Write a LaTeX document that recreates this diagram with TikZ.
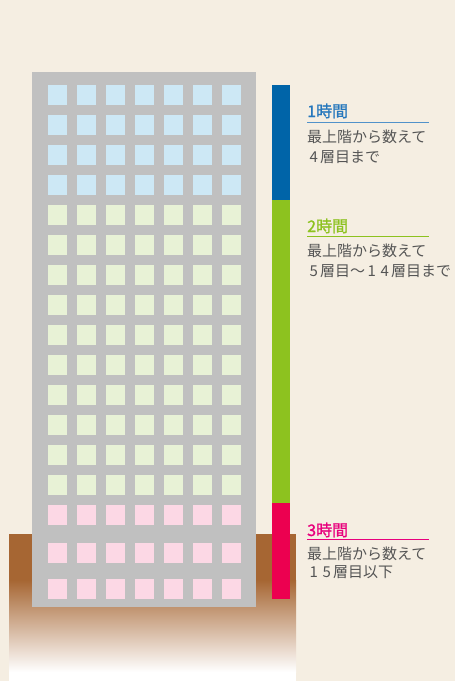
\documentclass[tikz,border=0pt]{standalone}
\usepackage{fontspec}
\newfontfamily\jpfont{Noto Sans CJK JP}
\newfontfamily\jpttl[FakeBold=1.2]{Noto Sans CJK JP}
\definecolor{bg}{HTML}{F5EEE2}
\definecolor{earth}{HTML}{A66633}
\definecolor{bldg}{HTML}{C0C0C0}
\definecolor{winblue}{HTML}{CDE8F5}
\definecolor{wingreen}{HTML}{E8F2D6}
\definecolor{winpink}{HTML}{FCD8E5}
\definecolor{barblue}{HTML}{0064A8}
\definecolor{bargreen}{HTML}{8DC21F}
\definecolor{barred}{HTML}{EC0050}
\definecolor{ttlblue}{HTML}{2577BD}
\definecolor{ttlpink}{HTML}{E8007D}
\definecolor{txtgray}{HTML}{555555}
\newcommand{\dg}[1]{\makebox[13pt][c]{#1}}
\tikzset{
  win/.style={fill=#1, draw=none},
  ttl/.style={anchor=base west, inner sep=0pt, font=\jpttl\fontsize{16}{16}\selectfont, text=#1},
  body/.style={anchor=base west, inner sep=0pt, font=\jpfont\fontsize{15}{15}\selectfont, text=txtgray},
  uline/.style={draw=#1, line width=1pt}
}
\begin{document}
\begin{tikzpicture}[x=1pt,y=-1pt]
\useasboundingbox (0,0) rectangle (455,681);
\fill[bg] (0,0) rectangle (455,681);
% ground
\fill[earth] (9,534) rectangle (296,581);
\shade[top color=earth, bottom color=white, shading angle=0] (9,580) rectangle (296,672);
\fill[white] (9,671.5) rectangle (296,681);
% building
\fill[bldg] (32,72) rectangle (256,607);
\foreach \i in {0,...,6}{
  \pgfmathsetmacro{\xx}{48+29*\i}
  \foreach \j in {0,...,3}{
    \pgfmathsetmacro{\yy}{85+30*\j}
    \fill[win=winblue] (\xx,\yy) rectangle ++(19,20);
  }
  \foreach \j in {4,...,13}{
    \pgfmathsetmacro{\yy}{85+30*\j}
    \fill[win=wingreen] (\xx,\yy) rectangle ++(19,20);
  }
  \foreach \yy in {505,543,579}{
    \fill[win=winpink] (\xx,\yy) rectangle ++(19,20);
  }
}
% bars
\fill[barblue] (272,85) rectangle (290,200);
\fill[bargreen] (272,200) rectangle (290,503);
\fill[barred] (272,503) rectangle (290,599);
% section 1
\node[ttl=ttlblue] (t1) at (307,117) {1時間};
\coordinate (u1a) at (307,122); \coordinate (u1b) at (429,122);
\draw[uline=ttlblue!80] (u1a) -- (u1b);
\node[body] (a1) at (307,142) {最上階から数えて};
\node[body] (b1) at (307,162) {\dg{4}層目まで};
% section 2
\node[ttl=bargreen] (t2) at (307,232) {2時間};
\coordinate (u2a) at (307,236.5); \coordinate (u2b) at (429,236.5);
\draw[uline=bargreen] (u2a) -- (u2b);
\node[body] (a2) at (307,256) {最上階から数えて};
\node[body] (b2) at (307,276) {\dg{5}層目〜\dg{1}\dg{4}層目まで};
% section 3
\node[ttl=ttlpink] (t3) at (307,536) {3時間};
\coordinate (u3a) at (307,539.5); \coordinate (u3b) at (429,539.5);
\draw[uline=ttlpink] (u3a) -- (u3b);
\node[body] (a3) at (307,559) {最上階から数えて};
\node[body] (b3) at (307,577) {\dg{1}\dg{5}層目以下};
\end{tikzpicture}
\end{document}
